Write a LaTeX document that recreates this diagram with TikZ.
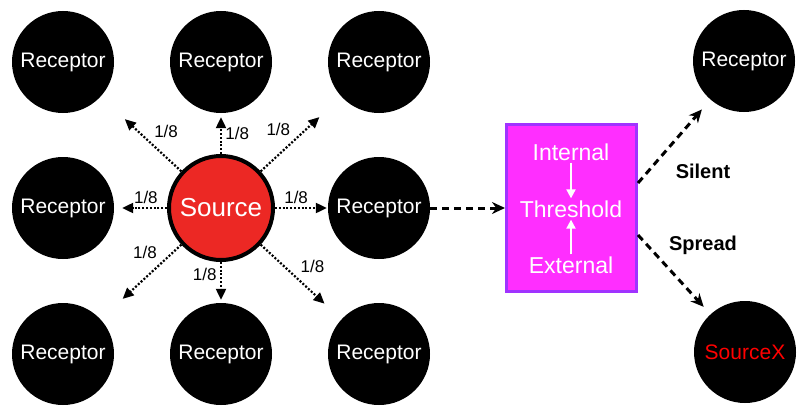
\documentclass[tikz,border=0pt]{standalone}
\usepackage{fontspec}
\setmainfont{Liberation Sans}
\usetikzlibrary{arrows.meta,positioning}

\definecolor{srcred}{RGB}{236,40,36}
\definecolor{boxfill}{RGB}{255,46,255}
\definecolor{boxline}{RGB}{160,51,255}

\tikzset{
	receptor/.style={circle, fill=black, text=white, minimum size=102pt, inner sep=0pt, font=\fontsize{21}{21}\selectfont},
	source/.style={circle, fill=srcred, draw=black, line width=4pt, text=white, minimum size=104pt, inner sep=0pt, font=\fontsize{26}{26}\selectfont},
	thresh/.style={rectangle, fill=boxfill, draw=boxline, line width=3pt, minimum width=130pt, minimum height=167pt},
	inbox/.style={text=white, inner sep=1pt, font=\fontsize{23}{23}\selectfont},
	share/.style={dash pattern=on 2pt off 1.8pt, line width=2.2pt, -{Triangle[length=11pt,width=10pt]}, font=\fontsize{17}{17}\selectfont},
	pass/.style={dash pattern=on 7pt off 5pt, line width=3pt, -{Stealth[length=13pt,width=12pt]}},
	tag/.style={font=\bfseries\fontsize{20}{20}\selectfont}
}

\begin{document}
\begin{tikzpicture}[x=1pt,y=-1pt]
	\useasboundingbox (0,0) rectangle (805,412);
		\draw 
			(63,62) node [receptor] (nw) {Receptor}
			(221,62) node [receptor] (n) {Receptor}
			(379,62) node [receptor] (ne) {Receptor}
			(63,208) node [receptor] (w) {Receptor}
			(221,208) node [source] (src) {Source}
			(379,208) node [receptor] (e) {Receptor}
			(63,354) node [receptor] (sw) {Receptor}
			(221,354) node [receptor] (s) {Receptor}
			(379,354) node [receptor] (se) {Receptor}
			(571.5,208) node [thresh] (box) {}
			(744,61) node [receptor] (silentr) {Receptor}
			(745,352) node [receptor, text=red] (srcx) {SourceX}
			;
		\draw
			(571,152) node [inbox] (int) {Internal}
			(571,209) node [inbox] (thr) {Threshold}
			(571,265) node [inbox] (ext) {External}
			(703,171) node [tag] (silent) {Silent}
			(703,245) node [tag] (spread) {Spread}
			;
		\path[share]
			(src) edge [shorten >=4pt] 	node [right, pos=.5] 		{1/8} (n)
				edge [shorten >=3pt] 	node [left, pos=.3] 		{1/8} (s)
				edge [shorten >=8pt] 	node [above, pos=.4] 		{1/8} (w)
				edge [shorten >=1pt] 	node [above, pos=.4] 		{1/8} (e)
				edge [shorten >=33pt] 	node [above right, pos=.39] 	{1/8} (nw)
				edge [shorten >=30pt] 	node [above left, pos=.42] 	{1/8} (ne)
				edge [shorten >=30pt] 	node [above left, pos=.25] 	{1/8} (sw)
				edge [shorten >=23pt] 	node [above right, pos=.44] 	{1/8} (se)
			;
		\path[white, line width=2pt, -{Triangle[length=9pt,width=9pt]}]
			(int) edge [shorten <=1pt, shorten >=1pt] (thr)
			(ext) edge [shorten <=1pt, shorten >=1pt] (thr)
			;
		\path[pass]
			(e) edge (box)
			([yshift=25pt]box.east) edge [shorten >=13pt] (silentr)
			([yshift=-27pt]box.east) edge [shorten >=10pt] (srcx)
			;
	\end{tikzpicture}
\end{document}
